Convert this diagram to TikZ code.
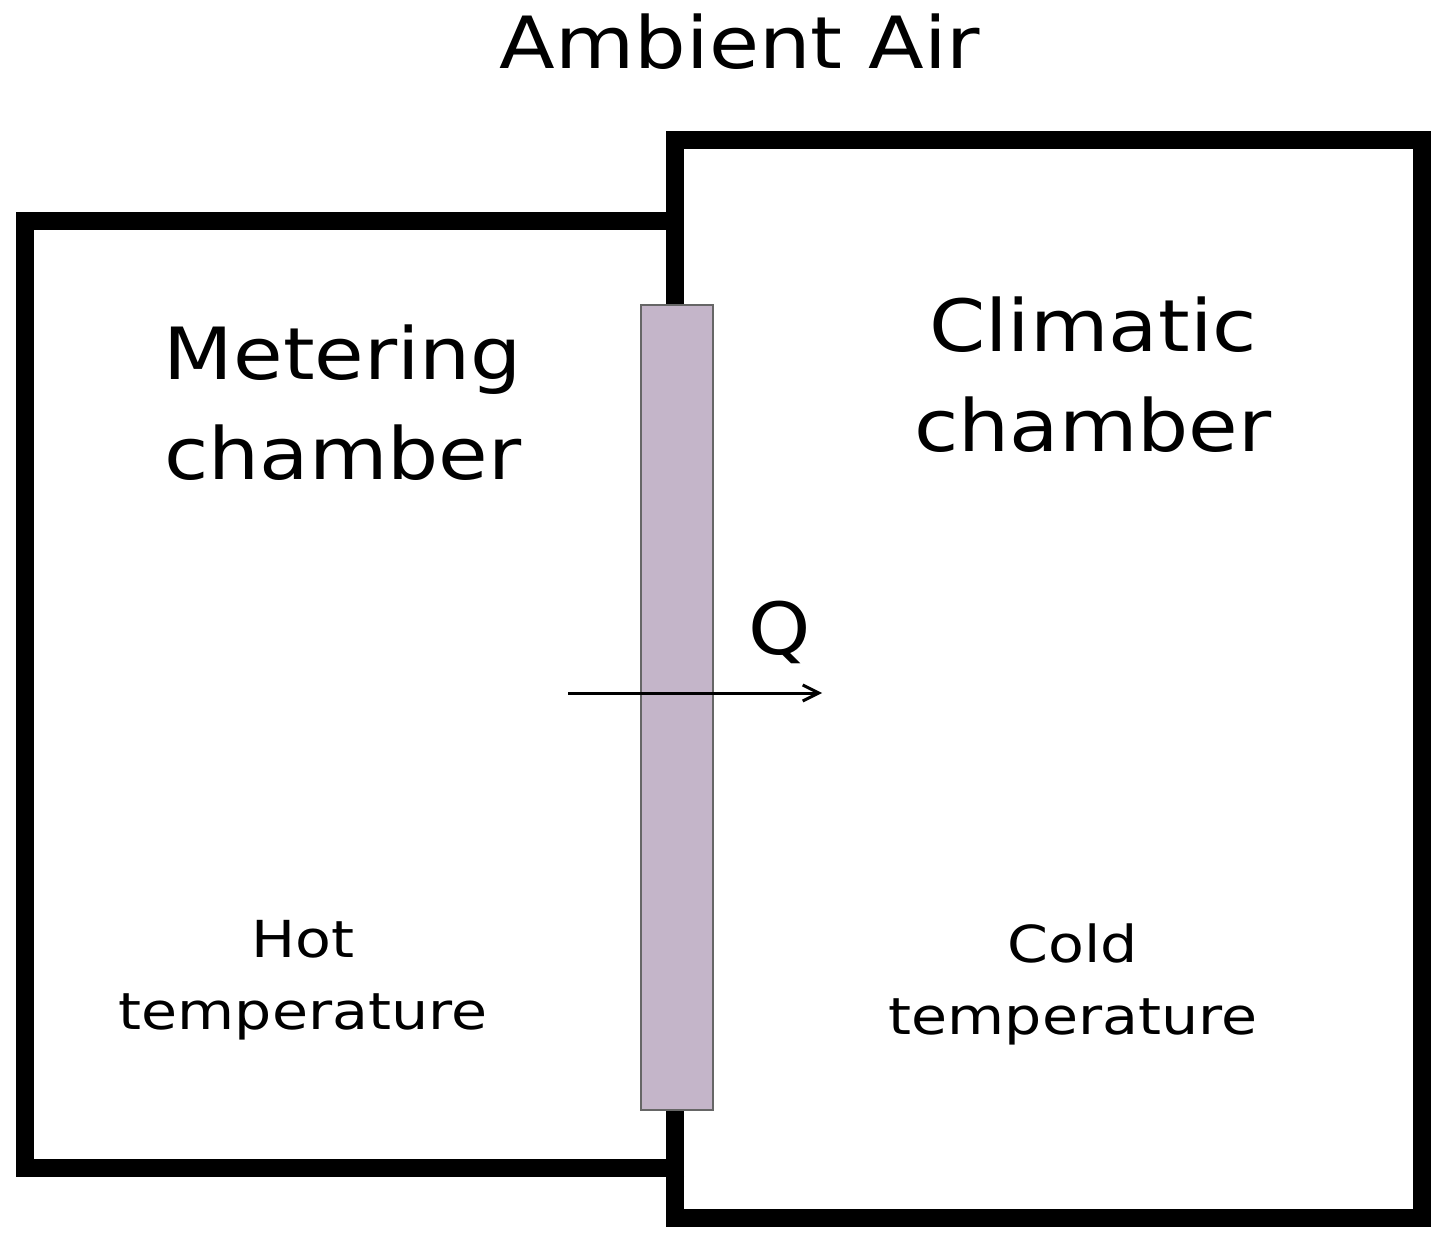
\documentclass[tikz,border=0pt]{standalone}
\usepackage{fontspec}
\setmainfont{DejaVu Sans}
\usetikzlibrary{arrows.meta}
\begin{document}
\begin{tikzpicture}[x=1pt,y=-1pt,
  wall/.style={line width=18pt},
  big/.style={font=\fontsize{72}{100}\selectfont,align=center,xscale=1.12},
  small/.style={font=\fontsize{51}{72}\selectfont,align=center,xscale=1.15}]
\useasboundingbox (0,0) rectangle (1439,1246);
\coordinate (r1) at (675,140); \coordinate (r2) at (1422,1218);
\draw[wall] (r1) rectangle (r2);
\draw[wall] (684,1168) -- (25,1168) -- (25,221) -- (675,221);
\node[draw=gray!80!black,line width=2pt,fill={rgb,255:red,196;green,181;blue,201},minimum width=72pt,minimum height=805pt,inner sep=0] (panel) at (676.5,707.5) {};
\coordinate (a0) at (568,693); \coordinate (a1) at (822,693);
\draw[line width=3pt,-{Straight Barb[length=16pt,width=16pt]}] (a0) -- (a1);
\node[font=\fontsize{72}{72}\selectfont,xscale=1.13] (amb) at (740,42) {Ambient Air};
\node[big] (met) at (343,403) {Metering\\chamber};
\node[big] (cli) at (1093,375) {Climatic\\chamber};
\node[font=\fontsize{72}{72}\selectfont,xscale=1.1] (q) at (780,632) {Q};
\node[small] (hot) at (303,980) {Hot\\temperature};
\node[small] (cold) at (1073,984) {Cold\\temperature};
\end{tikzpicture}
\end{document}
